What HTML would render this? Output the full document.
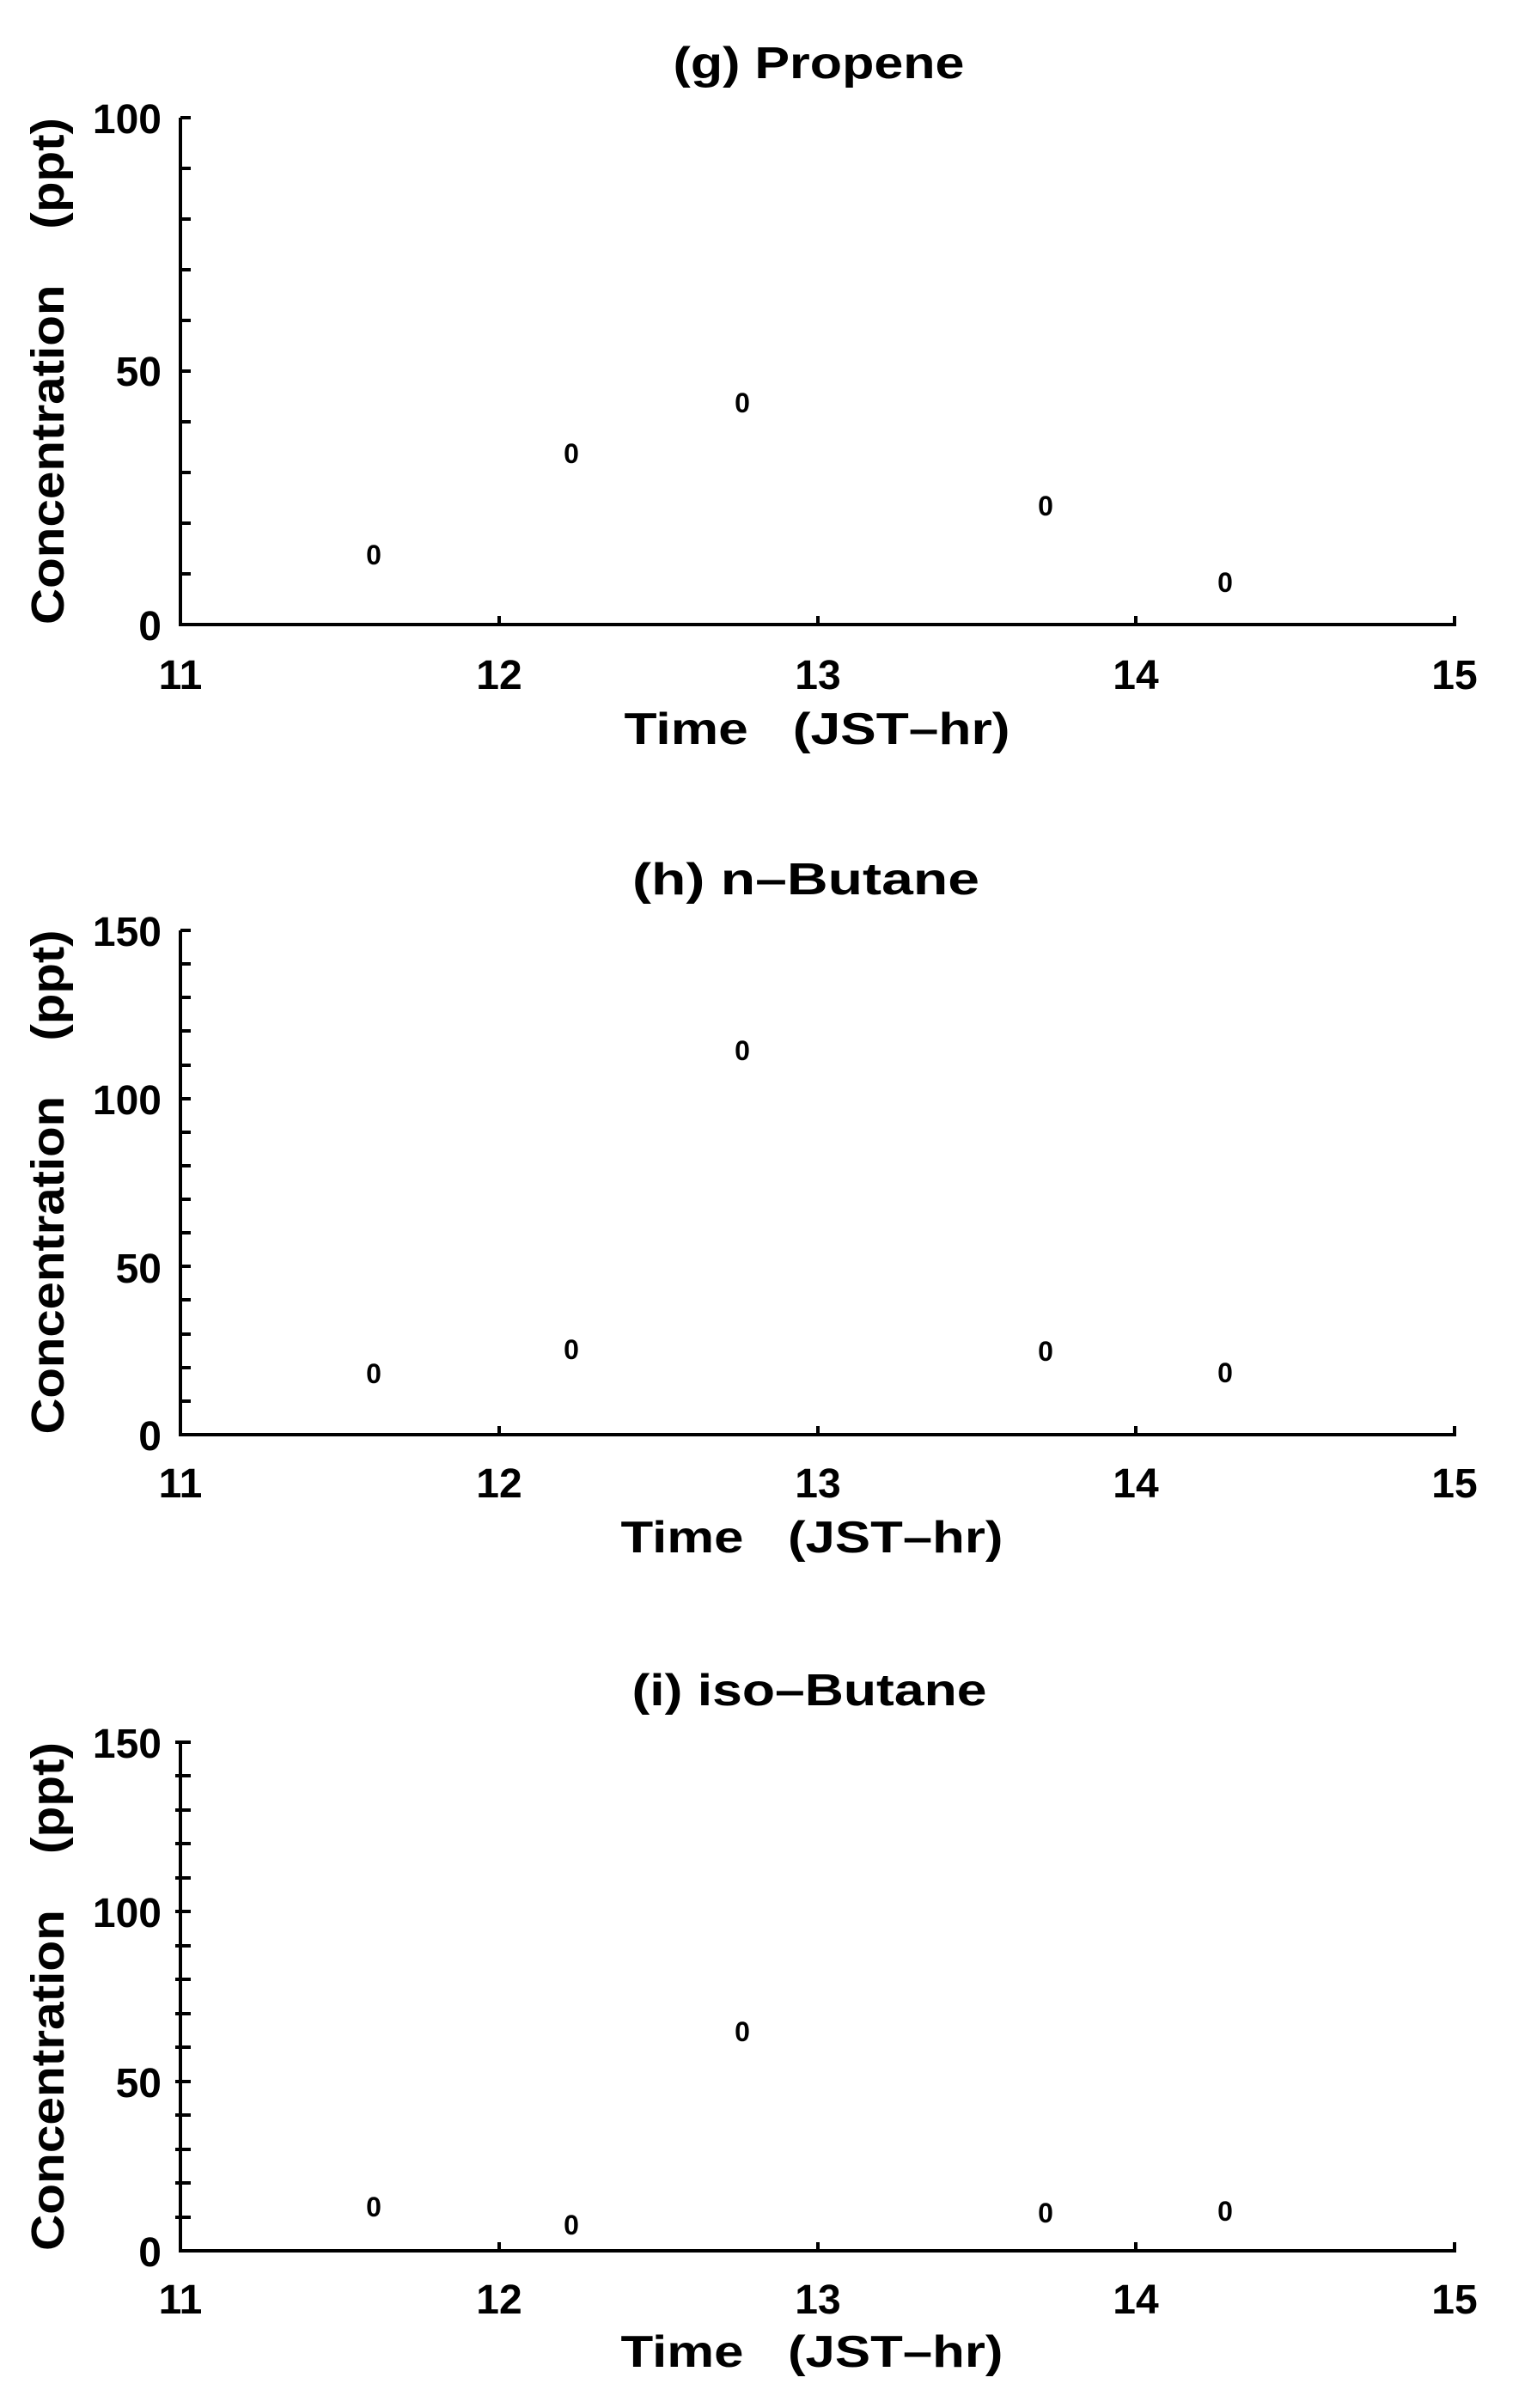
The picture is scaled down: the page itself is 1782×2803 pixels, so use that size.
<!DOCTYPE html>
<html><head><style>body{margin:0;background:#fff}svg{display:block}</style></head><body>
<svg width="1782" height="2803" viewBox="0 0 1782 2803" xmlns="http://www.w3.org/2000/svg" font-family="Liberation Sans, sans-serif" font-weight="bold" fill="#000">
<g stroke="#000" stroke-width="4" fill="none">
<path d="M210 137 V727 H1693 V717"/>
<path d="M210 137h12M210 196h12M210 255h12M210 314h12M210 373h12M210 432h12M210 491h12M210 550h12M210 609h12M210 668h12"/>
<path d="M581 727v-10M952 727v-10M1322 727v-10"/>
<path d="M210 1083 V1670 H1693 V1660"/>
<path d="M210 1083h12M210 1122h12M210 1161h12M210 1200h12M210 1240h12M210 1279h12M210 1318h12M210 1357h12M210 1396h12M210 1435h12M210 1474h12M210 1513h12M210 1553h12M210 1592h12M210 1631h12"/>
<path d="M581 1670v-10M952 1670v-10M1322 1670v-10"/>
<path d="M210 2028 V2620 H1693 V2610"/>
<path d="M204 2028h18M204 2067h18M204 2107h18M204 2146h18M204 2186h18M204 2225h18M204 2265h18M204 2304h18M204 2344h18M204 2383h18M204 2423h18M204 2462h18M204 2502h18M204 2541h18M204 2581h18"/>
<path d="M581 2620v-10M952 2620v-10M1322 2620v-10"/>
</g>
<g font-size="52" text-anchor="middle">
<text x="953" y="91" textLength="339" lengthAdjust="spacingAndGlyphs">(g) Propene</text>
<text x="938" y="1041" textLength="404" lengthAdjust="spacingAndGlyphs">(h) n&#8211;Butane</text>
<text x="942" y="1985" textLength="413" lengthAdjust="spacingAndGlyphs">(i) iso&#8211;Butane</text>
<text x="951" y="866" textLength="449" lengthAdjust="spacingAndGlyphs">Time&#160;&#160;&#160;(JST&#8211;hr)</text>
<text x="945" y="1807" textLength="445" lengthAdjust="spacingAndGlyphs">Time&#160;&#160;&#160;(JST&#8211;hr)</text>
<text x="945" y="2755" textLength="445" lengthAdjust="spacingAndGlyphs">Time&#160;&#160;&#160;(JST&#8211;hr)</text>
</g>
<g font-size="48" text-anchor="middle">
<text x="210" y="802">11</text><text x="581" y="802">12</text><text x="952" y="802">13</text><text x="1322" y="802">14</text><text x="1693" y="802">15</text>
<text x="210" y="1743">11</text><text x="581" y="1743">12</text><text x="952" y="1743">13</text><text x="1322" y="1743">14</text><text x="1693" y="1743">15</text>
<text x="210" y="2693">11</text><text x="581" y="2693">12</text><text x="952" y="2693">13</text><text x="1322" y="2693">14</text><text x="1693" y="2693">15</text>
</g>
<g font-size="48" text-anchor="end">
<text x="188" y="155">100</text><text x="188" y="449">50</text><text x="188" y="745">0</text>
<text x="188" y="1101">150</text><text x="188" y="1297">100</text><text x="188" y="1493">50</text><text x="188" y="1688">0</text>
<text x="188" y="2046">150</text><text x="188" y="2243">100</text><text x="188" y="2441">50</text><text x="188" y="2638">0</text>
</g>
<g font-size="54">
<text transform="translate(74 432) rotate(-90)" text-anchor="middle" textLength="590" lengthAdjust="spacingAndGlyphs">Concentration&#160;&#160;&#160;&#160;(ppt)</text>
<text transform="translate(74 1376) rotate(-90)" text-anchor="middle" textLength="587" lengthAdjust="spacingAndGlyphs">Concentration&#160;&#160;&#160;&#160;(ppt)</text>
<text transform="translate(74 2324) rotate(-90)" text-anchor="middle" textLength="592" lengthAdjust="spacingAndGlyphs">Concentration&#160;&#160;&#160;&#160;(ppt)</text>
</g>
<g font-size="32" text-anchor="middle">
<text x="435" y="657">0</text><text x="665" y="539">0</text><text x="864" y="480">0</text><text x="1217" y="600">0</text><text x="1426" y="689">0</text>
<text x="435" y="1610">0</text><text x="665" y="1582">0</text><text x="864" y="1234">0</text><text x="1217" y="1584">0</text><text x="1426" y="1609">0</text>
<text x="435" y="2580">0</text><text x="665" y="2601">0</text><text x="864" y="2376">0</text><text x="1217" y="2587">0</text><text x="1426" y="2585">0</text>
</g>
</svg>
</body></html>
